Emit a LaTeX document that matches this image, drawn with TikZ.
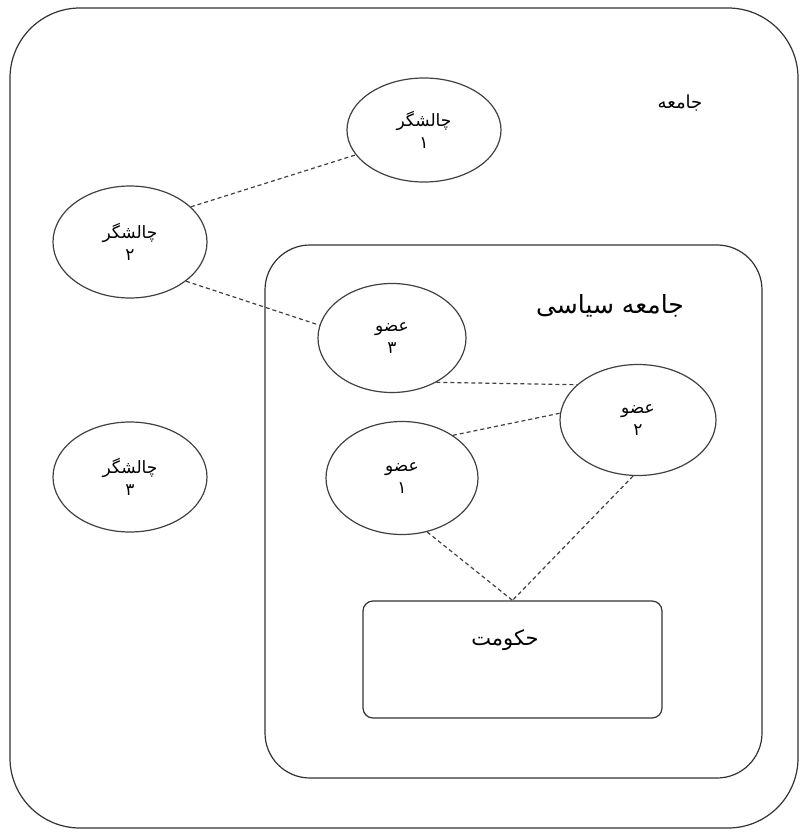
\documentclass[tikz,border=0pt]{standalone}
\usepackage{fontspec}
\newfontfamily\arabicfont[Script=Arabic]{DejaVu Sans}
\TeXXeTstate=1
\usetikzlibrary{shapes.geometric}
\begin{document}
\begin{tikzpicture}[x=1pt,y=-1pt,
  box/.style={draw=black!80,line width=1.2pt,rounded corners=#1},
  ell/.style={draw=black!75,line width=1.2pt,ellipse,inner sep=0pt,align=center,font=\arabicfont\fontsize{17}{22}\selectfont},
  dashline/.style={draw=black!75,line width=1.2pt,dash pattern=on 4pt off 3pt}]
\useasboundingbox (0,0) rectangle (808,834);
\draw[box=70pt] (10,8) rectangle (798,828);
\draw[box=45pt] (265,245) rectangle (762,778);
\node[draw=black!80,line width=1.2pt,rounded corners=10pt,minimum width=299pt,minimum height=117pt] (gov) at (512.5,659.5) {};
\node[font=\arabicfont\fontsize{21}{24}\selectfont] (govt) at (505,640) {\beginR حکومت\endR};
\node[font=\arabicfont\fontsize{18}{20}\selectfont] (soc) at (680,103) {\beginR جامعه\endR};
\node[font=\arabicfont\fontsize{25}{28}\selectfont] (pol) at (610,306) {\beginR جامعه سیاسی\endR};
\node[ell,minimum width=154pt,minimum height=104pt] (c1) at (424,130) {\beginR چالشگر\endR\\\beginR ۱\endR};
\node[ell,minimum width=154pt,minimum height=112pt] (c2) at (130,242) {\beginR چالشگر\endR\\\beginR ۲\endR};
\node[ell,minimum width=154pt,minimum height=110pt] (c3) at (130,477) {\beginR چالشگر\endR\\\beginR ۳\endR};
\node[ell,minimum width=148pt,minimum height=109pt] (m3) at (392,338) {\beginR عضو\endR\\\beginR ۳\endR};
\node[ell,minimum width=156pt,minimum height=111pt] (m2) at (638,420) {\beginR عضو\endR\\\beginR ۲\endR};
\node[ell,minimum width=152pt,minimum height=113pt] (m1) at (402,478) {\beginR عضو\endR\\\beginR ۱\endR};
\draw[dashline] (c2.30) -- (c1.200);
\draw[dashline] (c2.-35) -- (m3.170);
\draw[dashline] (m3.-45) -- (m2.150);
\draw[dashline] (m1.40) -- (m2.175);
\draw[dashline] (m1.-65) -- (gov.north);
\draw[dashline] (m2.-95) -- (gov.north);
\end{tikzpicture}
\end{document}
